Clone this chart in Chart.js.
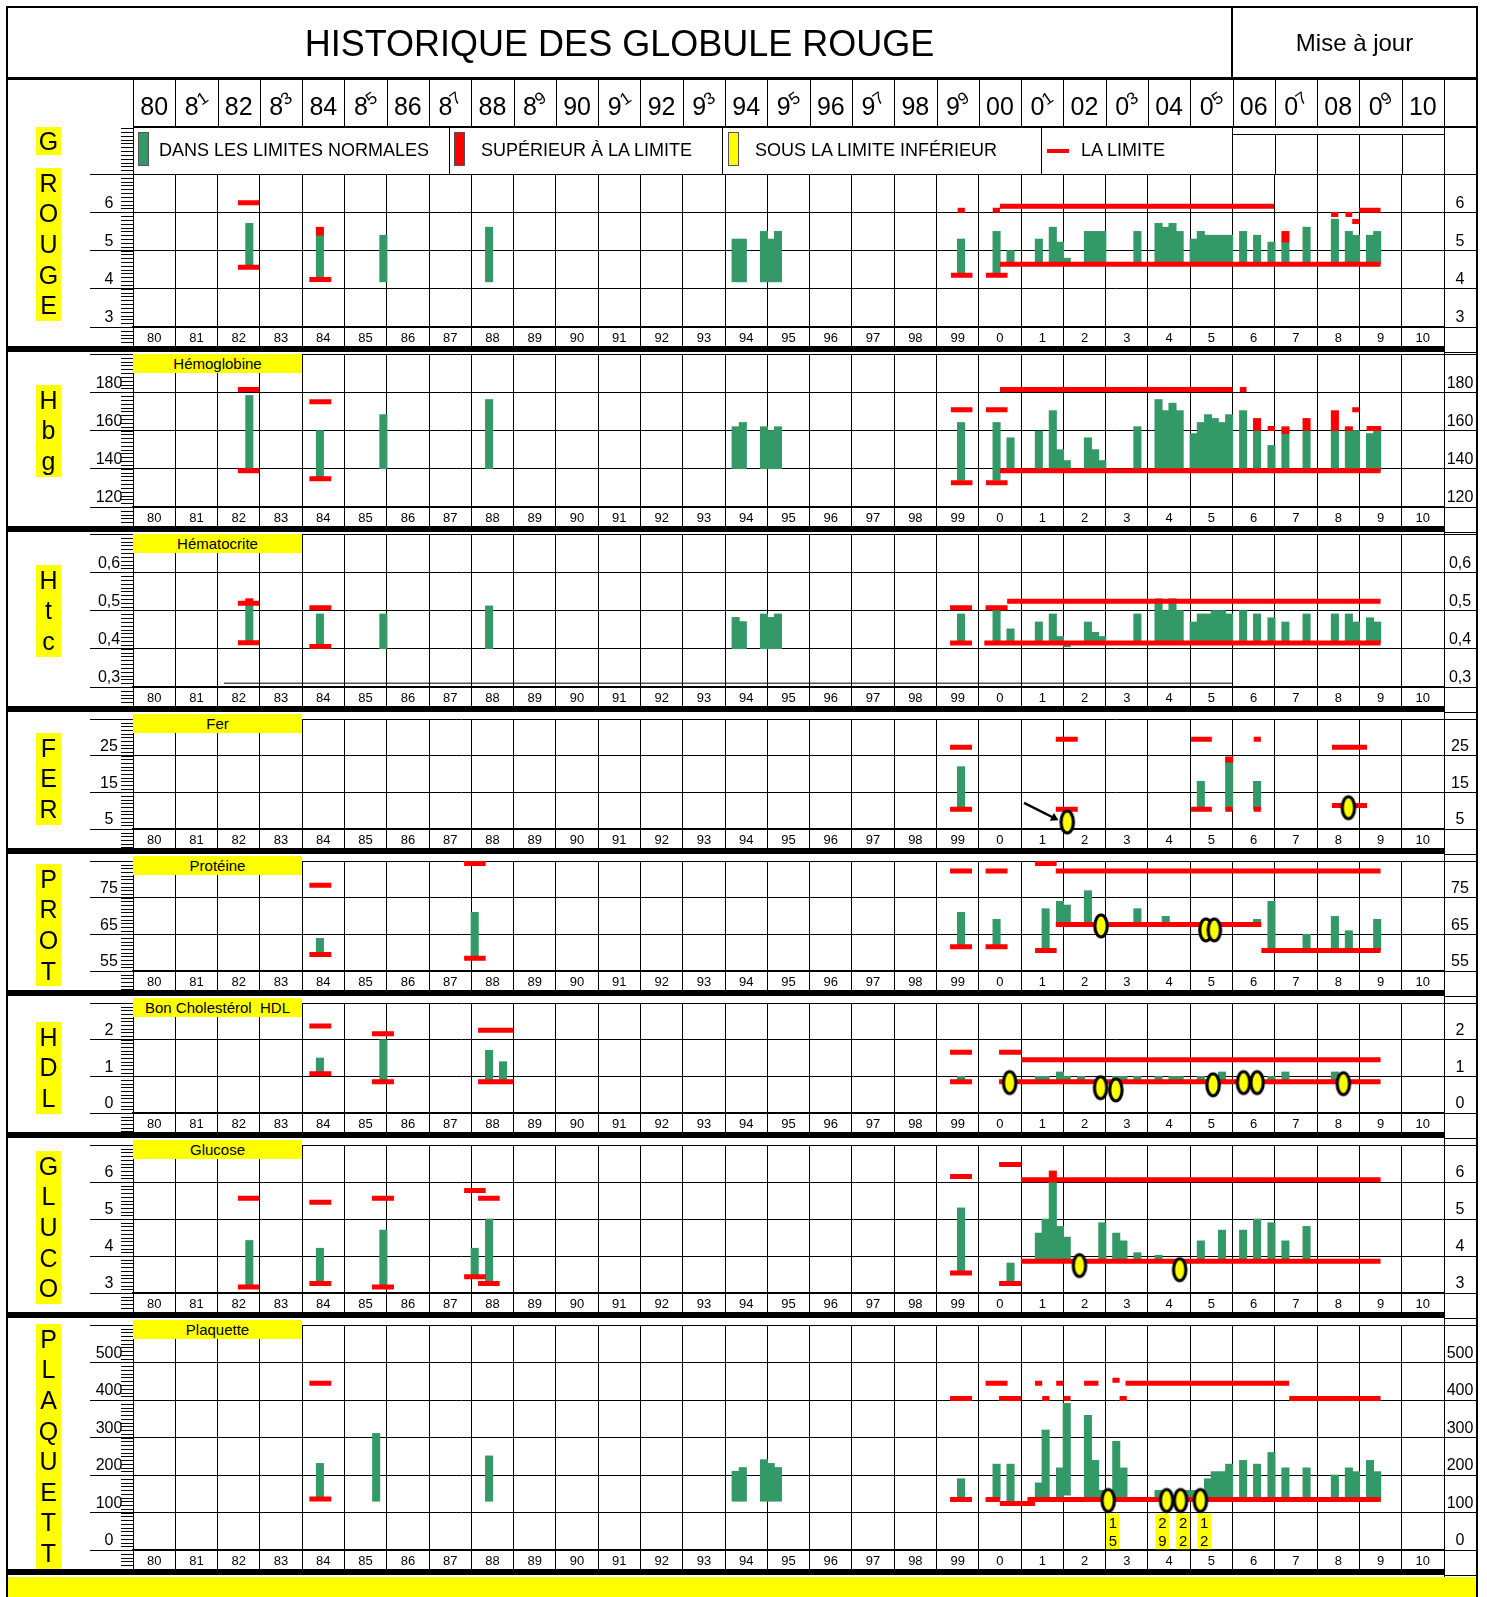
<!DOCTYPE html>
<html>
<head>
<meta charset="utf-8">
<script src="https://cdn.jsdelivr.net/npm/chart.js@4.4.1/dist/chart.umd.min.js"></script>
<style>
  body { margin: 0; background: #fff; }
  #page { position: relative; width: 1487px; height: 1597px; overflow: hidden; font-family: "Liberation Sans", Arial, sans-serif; color: #000; background: #fff; }
  #page div { position: absolute; box-sizing: border-box; }
  #page canvas { position: absolute; }
</style>
</head>
<body>
<div id="page"></div>
<script>
// year columns
const yearHeads = ['80','81','82','83','84','85','86','87','88','89','90','91','92','93','94','95','96','97','98','99','00','01','02','03','04','05','06','07','08','09','10'];
const yearTicks = ['80','81','82','83','84','85','86','87','88','89','90','91','92','93','94','95','96','97','98','99','0','1','2','3','4','5','6','7','8','9','10'];

// bars: [date, from, to]   limits: [from date, to date, value]   low: [date, value]
const rougeBars = [
  [1982.75,4.56,5.71],[1984.42,4.2,5.4],[1985.92,4.18,5.4],[1988.42,4.18,5.61],
  [1994.25,4.18,5.3],[1994.42,4.18,5.3],[1994.92,4.18,5.5],[1995.08,4.18,5.3],[1995.25,4.18,5.5],
  [1999.58,4.41,5.3],[2000.42,4.41,5.5],[2000.75,4.64,5.0],
  [2001.42,4.64,5.3],[2001.75,4.64,5.61],[2001.92,4.64,5.22],
  [2002.08,4.64,4.8],[2002.58,4.64,5.5],[2002.75,4.64,5.5],[2002.92,4.64,5.5],
  [2003.75,4.64,5.5],
  [2004.25,4.64,5.71],[2004.42,4.64,5.61],[2004.58,4.64,5.71],[2004.75,4.64,5.5],
  [2005.08,4.64,5.3],[2005.25,4.64,5.5],[2005.42,4.64,5.4],[2005.58,4.64,5.4],[2005.75,4.64,5.4],[2005.92,4.64,5.4],
  [2006.25,4.64,5.5],[2006.58,4.64,5.4],[2006.92,4.64,5.22],
  [2007.25,4.64,5.22],[2007.75,4.64,5.61],
  [2008.42,4.64,5.82],[2008.75,4.64,5.5],[2008.92,4.64,5.4],
  [2009.25,4.64,5.4],[2009.42,4.64,5.5]
];
const rougeOver = [[1984.42,5.4,5.61],[2007.25,5.22,5.5]];
const rougeLimits = [
  [1982.48,1982.98,6.25],[1982.48,1982.98,4.56],[1984.17,1984.69,4.24],
  [1999.34,1999.85,4.35],[1999.5,1999.67,6.05],[2000.17,2000.68,4.35],[2000.33,2000.5,6.05],
  [2000.5,2006.98,6.16],[2000.5,2009.5,4.64],
  [2008.33,2008.5,5.94],[2008.67,2008.83,5.94],[2008.83,2009.0,5.76],[2009.0,2009.5,6.05]
];

const hbgBars = [
  [1982.75,139,178.3],[1984.42,135.6,160],[1985.92,140,168.3],[1988.42,140,176.2],
  [1994.25,140,162],[1994.42,140,164.2],[1994.92,140,162],[1995.08,140,160],[1995.25,140,162],
  [1999.58,134,164.2],[2000.42,134,164.2],[2000.75,139,156.2],
  [2001.42,139,159.7],[2001.75,139,170.4],[2001.92,139,150],
  [2002.08,139,144.3],[2002.58,139,156.2],[2002.75,139,150],[2002.92,139,144.3],
  [2003.75,139,162],
  [2004.25,139,176.2],[2004.42,139,170.4],[2004.58,139,174.3],[2004.75,139,170.4],
  [2005.08,139,158.4],[2005.25,139,164.2],[2005.42,139,168.3],[2005.58,139,166.3],[2005.75,139,164.2],[2005.92,139,168.3],
  [2006.25,139,170.4],[2006.58,139,160],[2006.92,139,152.2],
  [2007.25,139,158.4],[2007.75,139,160],
  [2008.42,139,160],[2008.75,139,160],[2008.92,139,160],
  [2009.25,139,158.4],[2009.42,139,160]
];
const hbgOver = [[2006.58,160,166.3],[2007.25,158.4,162],[2007.75,160,166.3],[2008.42,160,170.4],[2008.75,160,162],[2009.42,160,162]];
const hbgLimits = [
  [1982.48,1982.98,181.4],[1982.48,1982.98,139],[1984.17,1984.69,175],[1984.17,1984.69,134.8],
  [1999.34,1999.85,170.8],[1999.34,1999.85,132.7],[2000.17,2000.68,170.8],[2000.17,2000.68,132.7],
  [2000.5,2006.0,181.4],[2006.17,2006.33,181.4],[2000.5,2009.5,139],
  [2006.83,2007.0,161],[2008.83,2009.0,170.8],[2009.17,2009.5,161]
];

const htcBars = [
  [1982.75,0.416,0.519],[1984.42,0.406,0.491],[1985.92,0.40,0.491],[1988.42,0.40,0.512],
  [1994.25,0.40,0.482],[1994.42,0.40,0.471],[1994.92,0.40,0.491],[1995.08,0.40,0.482],[1995.25,0.40,0.491],
  [1999.58,0.415,0.491],[2000.42,0.415,0.50],[2000.75,0.415,0.452],
  [2001.42,0.415,0.47],[2001.75,0.415,0.491],[2001.92,0.415,0.432],
  [2002.08,0.405,0.415],[2002.58,0.415,0.47],[2002.75,0.415,0.443],[2002.92,0.415,0.432],
  [2003.75,0.415,0.491],
  [2004.25,0.415,0.531],[2004.42,0.415,0.50],[2004.58,0.415,0.531],[2004.75,0.415,0.50],
  [2005.08,0.415,0.47],[2005.25,0.415,0.491],[2005.42,0.415,0.491],[2005.58,0.415,0.50],[2005.75,0.415,0.50],[2005.92,0.415,0.491],
  [2006.25,0.415,0.50],[2006.58,0.415,0.491],[2006.92,0.415,0.481],
  [2007.25,0.415,0.47],[2007.75,0.415,0.491],
  [2008.42,0.415,0.491],[2008.75,0.415,0.491],[2008.92,0.415,0.47],
  [2009.25,0.415,0.481],[2009.42,0.415,0.47]
];
const htcOver = [[1982.75,0.519,0.531]];
const htcLimits = [
  [1982.48,1982.98,0.519],[1982.48,1982.98,0.416],[1984.17,1984.69,0.507],[1984.17,1984.69,0.406],
  [1999.32,1999.84,0.507],[1999.32,1999.84,0.415],[2000.16,2000.68,0.507],
  [2000.13,2009.5,0.415],[2000.67,2009.5,0.524]
];
const htcRule = [[1982.15,2006.0,0.31]];

const ferBars = [[1999.58,10.4,22],[2005.25,10.4,18],[2005.92,10.4,23.2],[2006.58,10.4,18]];
const ferOver = [[2005.92,23.2,24.7]];
const ferLimits = [
  [1999.32,1999.84,27.3],[1999.32,1999.84,10.4],[2001.82,2002.34,29.5],[2001.82,2002.34,10.4],
  [2005.02,2005.51,29.5],[2005.02,2005.51,10.4],[2005.83,2006.0,10.4],
  [2006.5,2006.67,29.5],[2006.5,2006.67,10.4],[2008.35,2009.18,27.3],[2008.35,2009.18,11.4]
];
const ferLow = [[2002.09,6.9],[2008.74,10.8]];
const ferArrow = [[2001.07,12.1],[2001.78,8.0]];

const protBars = [
  [1984.42,59.5,63.9],[1988.08,58.5,71],[1999.58,61.6,71],[2000.42,61.6,69.1],[2001.58,60.6,72],
  [2001.92,67.7,74],[2002.08,67.7,73],[2002.58,67.7,76.9],[2003.75,67.7,72],[2004.42,67.7,69.9],
  [2006.58,67.7,69.1],[2006.92,60.6,74],[2007.75,60.6,65],[2008.42,60.6,69.9],[2008.75,60.6,66],[2009.42,60.6,69.1]
];
const protLimits = [
  [1984.17,1984.69,78.4],[1984.17,1984.69,59.5],[1987.83,1988.34,84.3],[1987.83,1988.34,58.5],
  [1999.32,1999.84,82.3],[1999.32,1999.84,61.6],[2000.16,2000.68,82.3],[2000.16,2000.68,61.6],
  [2001.33,2001.84,84.3],[2001.33,2001.84,60.6],
  [2001.82,2009.5,82.3],[2001.82,2006.68,67.7],[2006.68,2009.5,60.6]
];
const protLow = [[2002.89,67.3],[2005.37,66.2],[2005.57,66.2]];

const hdlBars = [
  [1984.42,1.07,1.5],[1985.92,0.85,2.0],[1988.42,0.85,1.71],[1988.75,0.85,1.4],[1999.58,0.85,1.0],
  [2001.42,0.85,1.0],[2001.58,0.85,1.0],[2001.92,0.85,1.12],[2002.08,0.85,1.0],[2002.42,0.85,1.0],
  [2003.25,0.85,1.0],[2003.42,0.85,1.0],[2003.75,0.85,1.0],[2004.25,0.85,1.0],[2004.58,0.85,1.0],[2004.75,0.85,1.0],
  [2005.25,0.85,1.0],[2005.75,0.85,1.12],[2006.92,0.85,1.0],[2007.25,0.85,1.12],[2008.42,0.85,1.12]
];
const hdlLimits = [
  [1984.17,1984.69,2.37],[1984.17,1984.69,1.07],[1985.65,1986.17,2.16],[1985.65,1986.17,0.85],
  [1988.16,1989.0,2.26],[1988.16,1989.0,0.85],[1999.32,1999.84,1.66],[1999.32,1999.84,0.85],
  [2000.48,2001.0,1.66],[2000.48,2009.5,0.85],[2001.0,2009.5,1.45]
];
const hdlLow = [[2000.73,0.83],[2002.88,0.69],[2003.24,0.63],[2005.54,0.77],[2006.26,0.83],[2006.58,0.83],[2008.62,0.8]];

const gluBars = [
  [1982.75,3.16,4.42],[1984.42,3.26,4.21],[1985.92,3.16,4.7],[1988.08,3.44,4.21],[1988.42,3.26,5.0],
  [1999.58,3.54,5.3],[2000.75,3.26,3.81],
  [2001.42,3.86,4.62],[2001.58,3.86,5.0],[2001.75,3.86,6.0],[2001.92,3.86,4.8],
  [2002.08,3.86,4.51],[2002.92,3.86,4.9],[2003.25,3.86,4.62],[2003.42,3.86,4.41],[2003.75,3.86,4.09],
  [2004.25,3.86,4.02],[2005.25,3.86,4.41],[2005.75,3.86,4.7],
  [2006.25,3.86,4.7],[2006.58,3.86,5.0],[2006.92,3.86,4.9],[2007.25,3.86,4.41],[2007.75,3.86,4.8]
];
const gluOver = [[2001.75,6.0,6.3]];
const gluLimits = [
  [1982.48,1982.99,5.56],[1982.48,1982.99,3.16],[1984.17,1984.69,5.45],[1984.17,1984.69,3.26],
  [1985.65,1986.17,5.56],[1985.65,1986.17,3.16],[1987.83,1988.34,5.77],[1987.83,1988.34,3.44],
  [1988.16,1988.67,5.56],[1988.16,1988.67,3.26],[1999.32,1999.84,6.15],[1999.32,1999.84,3.54],
  [2000.48,2001.0,6.47],[2000.48,2001.0,3.26],[2001.0,2009.5,6.06],[2001.0,2009.5,3.86]
];
const gluLow = [[2002.38,3.74],[2004.75,3.63]];

const plaqBars = [
  [1984.42,136,231],[1985.75,130,311],[1988.42,130,251],
  [1994.25,130,210],[1994.42,130,220],[1994.92,130,241],[1995.08,130,231],[1995.25,130,220],
  [1999.58,135,190],[2000.42,135,229],[2000.75,129,229],
  [2001.42,135,179],[2001.58,135,320],[2001.92,135,219],
  [2002.08,146,391],[2002.58,130,359],[2002.75,130,239],[2002.92,130,159],
  [2003.25,130,290],[2003.42,130,219],[2004.25,130,159],[2004.92,130,159],
  [2005.08,130,159],[2005.42,130,190],[2005.58,130,209],[2005.75,130,209],[2005.92,130,229],
  [2006.25,130,239],[2006.58,130,229],[2006.92,130,260],[2007.25,130,219],[2007.75,130,219],
  [2008.42,130,200],[2008.75,130,219],[2008.92,130,209],[2009.25,130,239],[2009.42,130,209]
];
const plaqLimits = [
  [1984.17,1984.69,445],[1984.17,1984.69,136],[1999.32,1999.84,404],[1999.32,1999.84,135],
  [2000.16,2000.68,445],[2000.48,2001.0,404],[2000.16,2000.5,135],[2000.5,2001.33,124],[2001.15,2009.5,135],
  [2001.33,2001.5,445],[2001.5,2001.67,404],[2001.83,2002.0,445],[2002.0,2002.17,404],[2002.49,2002.83,445],
  [2003.16,2003.33,453],[2003.33,2003.5,404],[2003.47,2007.34,445],[2007.34,2009.5,404]
];
const plaqLow = [[2003.06,132],[2004.44,132],[2004.77,132],[2005.24,132]];
const plaqTags = [[2003.17,'1','5'],[2004.34,'2','9'],[2004.83,'2','2'],[2005.33,'1','2']];

const GREEN = '#339966', RED = '#ff0000', YEL = '#ffff00';
const FAMILY = '"Liberation Sans", Arial, sans-serif';
Chart.defaults.font.family = FAMILY;
Chart.defaults.color = '#000';

const page = document.getElementById('page');
function el(x, y, w, h, css, html) {
  const d = document.createElement('div');
  d.style.cssText = 'left:' + x + 'px;top:' + y + 'px;width:' + w + 'px;height:' + h + 'px;' + (css || '');
  if (html !== undefined) d.innerHTML = html;
  page.appendChild(d);
  return d;
}
const COL0 = 133, COLW = (1444 - 133) / 31, UNIT = 38.3;

// oval marker for "below lower limit"
const oval = document.createElement('canvas');
oval.width = 18; oval.height = 28;
(function () {
  const g = oval.getContext('2d');
  g.beginPath(); g.ellipse(9, 14, 6.2, 11, 0, 0, Math.PI * 2);
  g.fillStyle = YEL; g.fill(); g.lineWidth = 3.2; g.strokeStyle = '#000'; g.stroke();
})();

const measure = document.createElement('canvas').getContext('2d');
function textW(s, size) { measure.font = size + 'px ' + FAMILY; return measure.measureText(s).width; }

const rng = list => list.map(b => ({ x: b[0] - 1980, y: [b[1], b[2]] }));
const pts = list => list.map(p => ({ x: p[0] - 1980, y: p[1] }));
function segs(list) {
  const out = [];
  list.forEach(s => { out.push({ x: s[0] - 1980, y: s[2] }, { x: s[1] - 1980, y: s[2] }, { x: s[1] - 1980, y: null }); });
  return out;
}

// small comb of ticks along the left axis, plus the digit tags of the Plaquette panel
const combPlugin = {
  id: 'comb',
  afterDraw(chart) {
    const y = chart.scales.y, a = chart.chartArea, ctx = chart.ctx;
    const opt = chart.options.plugins.comb;
    const minor = opt.minor;
    ctx.save(); ctx.strokeStyle = '#000'; ctx.lineWidth = 1; ctx.beginPath();
    for (let k = -5; ; k++) {
      const v = y.min + k * minor;
      if (v > y.max + minor * (opt.up + 0.5)) break;
      const py = Math.round(y.getPixelForValue(v)) + 0.5;
      ctx.moveTo(a.left - 12, py); ctx.lineTo(a.left, py);
    }
    ctx.stroke();
    const tags = opt.tags || [];
    ctx.font = '15px ' + FAMILY; ctx.fillStyle = '#000'; ctx.textAlign = 'center'; ctx.textBaseline = 'middle';
    tags.forEach(t => {
      const px = chart.scales.xv.getPixelForValue(t[0] - 1980);
      ctx.fillText(t[1], px, y.getPixelForValue(70));
      ctx.fillText(t[2], px, y.getPixelForValue(22));
    });
    ctx.restore();
  }
};

function makePanel(p) {
  const plotH = Math.round((p.max - p.min) / p.step * UNIT);
  const padTop = p.padTop || 2;
  const H = plotH + padTop + 19;
  const cv = document.createElement('canvas');
  cv.width = 1478; cv.height = H;
  cv.style.left = '0px'; cv.style.top = (p.top - padTop) + 'px';
  page.appendChild(cv);

  const fmt = v => (Math.abs(v - p.max) < 1e-9 ? '' : (p.comma ? v.toFixed(1).replace('.', ',') : String(Math.round(v))));
  let widest = 0;
  for (let v = p.min; v < p.max - 1e-9; v += p.step) widest = Math.max(widest, textW(fmt(v), 16));

  const common = { xAxisID: 'xv', yAxisID: 'y' };
  const datasets = [];
  datasets.push(Object.assign({ type: 'bar', data: rng(p.bars), backgroundColor: GREEN, barThickness: 7.4, stack: 's', order: 5 }, common));
  if (p.over) datasets.push(Object.assign({ type: 'bar', data: rng(p.over), backgroundColor: RED, barThickness: 7.4, stack: 's', order: 4 }, common));
  if (p.tags) datasets.push(Object.assign({ type: 'bar', data: p.tags.map(t => ({ x: t[0] - 1980, y: [3, 96] })), backgroundColor: YEL, barThickness: 13, stack: 's', order: 6 }, common));
  datasets.push(Object.assign({ type: 'line', data: segs(p.limits), borderColor: RED, borderWidth: 5, pointRadius: 0, spanGaps: false, borderCapStyle: 'butt', tension: 0, order: 2 }, common));
  if (p.rule) datasets.push(Object.assign({ type: 'line', data: segs(p.rule), borderColor: '#000', borderWidth: 1, pointRadius: 0, spanGaps: false, order: 3 }, common));
  if (p.arrow) datasets.push(Object.assign({ type: 'line', data: pts(p.arrow), borderColor: '#000', borderWidth: 2.5, pointRadius: [0, 5], pointStyle: 'triangle', pointRotation: 118, pointBackgroundColor: '#000', pointBorderWidth: 0, order: 1 }, common));
  if (p.low) datasets.push(Object.assign({ type: 'line', data: pts(p.low), showLine: false, pointStyle: oval, pointRadius: 6, clip: false, order: 0 }, common));

  new Chart(cv, {
    type: 'bar',
    data: { labels: yearTicks, datasets: datasets },
    options: {
      responsive: false, animation: false, devicePixelRatio: 1,
      layout: { padding: { top: padTop, left: 0, right: 0, bottom: 0 } },
      plugins: { legend: { display: false }, tooltip: { enabled: false }, comb: { minor: p.step / 10, tags: p.tags, up: p.combUp || 0 } },
      scales: {
        x: {
          type: 'category', labels: yearTicks, position: 'bottom', offset: true,
          grid: { offset: true, color: '#000', lineWidth: 1, tickLength: 19 },
          border: { color: '#000', width: 2 },
          ticks: { font: { size: 13 }, padding: -15, maxRotation: 0, autoSkip: false },
          afterFit: s => { s.height = 19; }
        },
        xv: { type: 'linear', min: 0, max: 31, display: false, offset: false },
        y: {
          type: 'linear', position: 'left', min: p.min, max: p.max, stacked: false, beginAtZero: false,
          ticks: { stepSize: p.step, callback: fmt, font: { size: 16 }, crossAlign: 'center', padding: -19 - widest / 2, labelOffset: -9, autoSkip: false },
          grid: { color: '#000', lineWidth: 1, tickLength: 43 },
          border: { color: '#000', width: 1 },
          afterFit: s => { s.width = 133; }
        },
        yr: {
          type: 'linear', position: 'right', min: p.min, max: p.max,
          ticks: { stepSize: p.step, callback: fmt, font: { size: 16 }, crossAlign: 'center', padding: -18 - widest / 2, labelOffset: -9, autoSkip: false },
          grid: { drawOnChartArea: false, color: '#000', lineWidth: 1, tickLength: 34 },
          border: { color: '#000', width: 1 },
          afterFit: s => { s.width = 34; }
        }
      }
    },
    plugins: [combPlugin]
  });
  return p.top + plotH;
}

const panels = [
  { top: 174, min: 3, max: 7, step: 1, bars: rougeBars, over: rougeOver, limits: rougeLimits, padTop: 48, combUp: 12 },
  { top: 354, min: 120, max: 200, step: 20, bars: hbgBars, over: hbgOver, limits: hbgLimits, name: 'Hémoglobine' },
  { top: 534, min: 0.3, max: 0.7, step: 0.1, comma: true, bars: htcBars, over: htcOver, limits: htcLimits, rule: htcRule, name: 'Hématocrite' },
  { top: 714, min: 5, max: 35, step: 10, bars: ferBars, over: ferOver, limits: ferLimits, low: ferLow, arrow: ferArrow, name: 'Fer' },
  { top: 856, min: 55, max: 85, step: 10, bars: protBars, limits: protLimits, low: protLow, name: 'Protéine' },
  { top: 998, min: 0, max: 3, step: 1, bars: hdlBars, limits: hdlLimits, low: hdlLow, name: 'Bon Cholestérol&nbsp; HDL' },
  { top: 1140, min: 3, max: 7, step: 1, bars: gluBars, over: gluOver, limits: gluLimits, low: gluLow, name: 'Glucose' },
  { top: 1320, min: 0, max: 600, step: 100, bars: plaqBars, limits: plaqLimits, low: plaqLow, tags: plaqTags, name: 'Plaquette' }
];

const bottoms = panels.map(makePanel);

// frame, title and header rows
el(6, 6, 2, 1591, 'background:#000');
el(1476, 6, 2, 1591, 'background:#000');
el(6, 6, 1472, 2, 'background:#000');
el(6, 77, 1472, 3, 'background:#000');
el(1231, 6, 2, 73, 'background:#000');
el(8, 8, 1223, 69, 'display:flex;align-items:center;justify-content:center;font-size:36px;padding-top:2px', 'HISTORIQUE DES GLOBULE ROUGE');
el(1233, 8, 243, 69, 'display:flex;align-items:center;justify-content:center;font-size:24px', 'Mise à jour');

yearHeads.forEach((t, i) => {
  const txt = (i % 2 === 1)
    ? t[0] + '<span style="font-size:17px;display:inline-block;transform:translate(-1px,-8px) rotate(-35deg)">' + t[1] + '</span>'
    : t;
  el(COL0 + i * COLW, 80, COLW, 47, 'display:flex;align-items:center;justify-content:center;font-size:25px;padding-top:6px', txt);
});
for (let i = 0; i <= 31; i++) el(Math.round(COL0 + i * COLW), 80, 1, 47, 'background:#000');
el(133, 126, 1345, 2, 'background:#000');
el(1444, 80, 1, 1497, 'background:#000');

// legend row
el(133, 127, 1, 47, 'background:#000');
[449, 722, 1041].forEach(x => el(x, 127, 1, 47, 'background:#000'));
el(1232, 127, 1, 47, 'background:#000');
el(1232, 134, 212, 1, 'background:#000');
for (let i = 27; i <= 30; i++) el(Math.round(COL0 + i * COLW), 134, 1, 40, 'background:#000');
el(138, 132, 11, 34, 'background:' + GREEN + ';border:1px solid #555');
el(159, 133, 285, 34, 'font-size:18px;line-height:34px', 'DANS LES LIMITES NORMALES');
el(454, 132, 11, 34, 'background:' + RED + ';border:1px solid #555');
el(481, 133, 240, 34, 'font-size:18px;line-height:34px', 'SUPÉRIEUR À LA LIMITE');
el(728, 132, 11, 34, 'background:' + YEL + ';border:1px solid #555');
el(755, 133, 285, 34, 'font-size:18px;line-height:34px', 'SOUS LA LIMITE INFÉRIEUR');
el(1047, 149, 22, 4, 'background:' + RED);
el(1081, 133, 150, 34, 'font-size:18px;line-height:34px', 'LA LIMITE');

// thick separators and bottom band
bottoms.forEach(b => {
  el(6, b + 19, 1438, 6, 'background:#000');
  el(1444, b + 25, 34, 1, 'background:#000');
});
el(8, 1577, 1468, 20, 'background:' + YEL);

// panel names
panels.forEach(p => {
  if (p.name) el(133, p.top, 169, 19, 'background:' + YEL + ';font-size:15px;text-align:center;line-height:19px', p.name);
});

// vertical yellow letter labels
const letterCols = [[127, 'G', 28], [168, 'ROUGE'], [385, 'Hbg'], [565, 'Htc'], [733, 'FER'], [864, 'PROT'], [1022, 'HDL'], [1151, 'GLUCO'], [1324, 'PLAQUETT']];
letterCols.forEach(c => {
  const pitch = c[2] || 30.6;
  el(36, c[0], 25, pitch * c[1].length, 'background:' + YEL);
  c[1].split('').forEach((ch, k) => {
    el(36, c[0] + k * pitch, 25, pitch, 'display:flex;align-items:center;justify-content:center;font-size:25px', ch);
  });
});
</script>
</body>
</html>
